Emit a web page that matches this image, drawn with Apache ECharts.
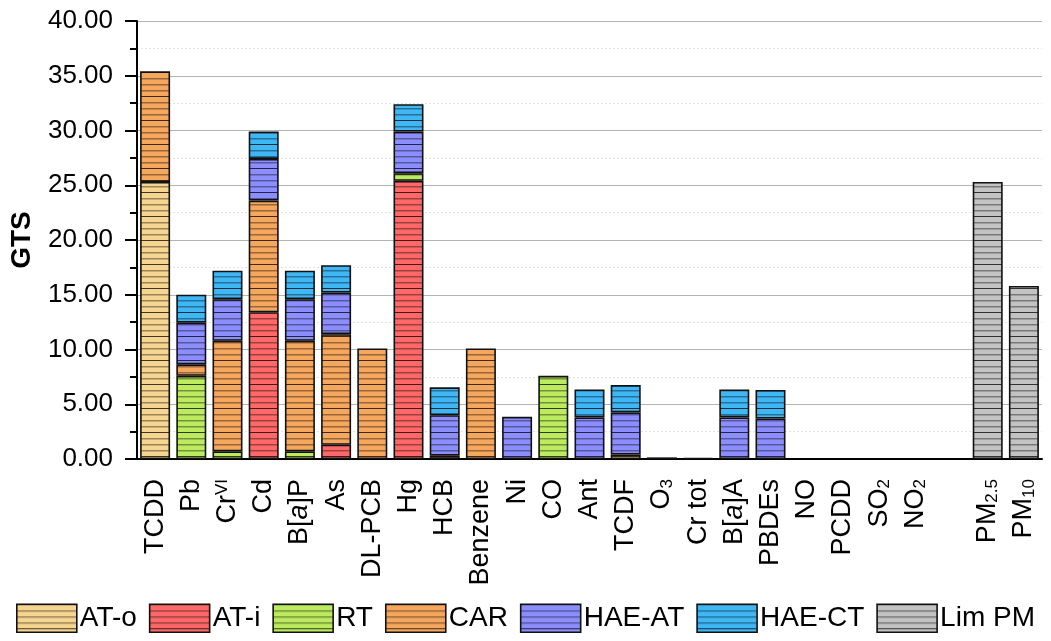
<!DOCTYPE html>
<html>
<head>
<meta charset="utf-8">
<style>
  html, body { margin: 0; padding: 0; background: #fff; }
  #chart { width: 1051px; height: 641px; }
</style>
<script src="https://cdn.jsdelivr.net/npm/echarts@6/dist/echarts.min.js"></script>
</head>
<body>
<div id="chart"></div>
<script>
// Pollutant categories along the x axis (the empty slot separates the PM group)
const categories = ['TCDD', 'Pb', 'CrVI', 'Cd', 'B[a]P', 'As', 'DL-PCB', 'Hg', 'HCB', 'Benzene',
  'Ni', 'CO', 'Ant', 'TCDF', 'O3', 'Cr tot', 'B[a]A', 'PBDEs', 'NO', 'PCDD', 'SO2', 'NO2', '', 'PM2.5', 'PM10'];

// Rich-text versions of the labels (sub/superscripts, italics)
const labelText = {
  'CrVI': 'Cr{sup|VI}',
  'B[a]P': 'B[{it|a}]P',
  'B[a]A': 'B[{it|a}]A',
  'O3': 'O{sub|3}',
  'SO2': 'SO{sub|2}',
  'NO2': 'NO{sub|2}',
  'PM2.5': 'PM{sub|2.5}',
  'PM10': 'PM{sub|10}'
};

const seriesNames = ['AT-o', 'AT-i', 'RT', 'CAR', 'HAE-AT', 'HAE-CT', 'Lim PM'];
const seriesColors = ['#F6D590', '#FF6868', '#BDEB60', '#F6A75E', '#8C8EFF', '#40B7F5', '#C3C3C3'];

// GTS contributions per category (null = no contribution)
const atO   = [25.3, null, null, null, null, null, null, null, null, null, null, null, null, 0.4, null, null, null, null, null, null, null, null, null, null, null];
const atI   = [null, null, null, 13.4, null, 1.3, null, 25.4, 0.3, null, null, null, null, null, 0.15, 0.08, null, null, null, null, null, null, null, null, null];
const rt    = [null, 7.6, 0.7, null, 0.7, null, null, 0.7, null, null, null, 7.6, null, null, null, null, null, null, null, null, null, null, null, null, null];
const car   = [10.1, 1.05, 10.1, 10.2, 10.1, 10.1, 10.1, null, null, 10.1, null, null, null, null, null, null, null, null, null, null, null, null, null, null, null];
const haeAT = [null, 3.8, 3.8, 3.8, 3.8, 3.8, null, 3.8, 3.7, null, 3.85, null, 3.8, 3.85, null, null, 3.8, 3.7, null, null, null, null, null, null, null];
const haeCT = [null, 2.55, 2.6, 2.5, 2.6, 2.5, null, 2.5, 2.55, null, null, null, 2.55, 2.5, null, null, 2.55, 2.6, null, null, null, null, null, null, null];
const limPM = [null, null, null, null, null, null, null, null, null, null, null, null, null, null, null, null, null, null, null, null, null, null, null, 25.3, 15.8];

const seriesData = [atO, atI, rt, car, haeAT, haeCT, limPM];

// Horizontal hatch fill: base colour with darker stripes
function stripePattern(color) {
  const c = document.createElement('canvas');
  c.width = 8;
  c.height = 24;
  const g = c.getContext('2d');
  g.fillStyle = color;
  g.fillRect(0, 0, 8, 24);
  g.fillStyle = 'rgba(0,0,0,0.75)';
  g.fillRect(0, 0, 8, 1);
  g.fillStyle = 'rgba(0,0,0,0.38)';
  g.fillRect(0, 6, 8, 1.5);
  g.fillRect(0, 12, 8, 1.5);
  g.fillRect(0, 18, 8, 1.5);
  return { image: c, repeat: 'repeat' };
}

const FONT = '"Liberation Sans", Arial, sans-serif';

const chart = echarts.init(document.getElementById('chart'), null, { renderer: 'canvas' });

const series = seriesNames.map((name, i) => ({
  name: name,
  type: 'bar',
  stack: 'gts',
  barWidth: 30,
  data: seriesData[i],
  itemStyle: {
    color: stripePattern(seriesColors[i]),
    borderColor: '#111',
    borderWidth: 1.6
  },
  emphasis: { disabled: true }
}));

chart.setOption({
  animation: false,
  backgroundColor: '#fff',
  grid: { left: 137, right: 9, top: 21, bottom: 182, containLabel: false },
  legend: {
    bottom: 3,
    left: 'center',
    itemWidth: 60,
    itemHeight: 28,
    itemGap: 12,
    icon: 'rect',
    data: seriesNames,
    textStyle: { fontFamily: FONT, fontSize: 28, color: '#000', padding: [0, 0, 0, -2] },
    itemStyle: { borderColor: '#111', borderWidth: 1.6 }
  },
  xAxis: {
    type: 'category',
    data: categories,
    boundaryGap: true,
    axisLine: { lineStyle: { color: '#000', width: 2 } },
    axisTick: { alignWithLabel: true, length: 12, lineStyle: { color: '#000', width: 2 } },
    axisLabel: {
      interval: 0,
      rotate: 90,
      margin: 20,
      fontFamily: FONT,
      fontSize: 27,
      color: '#000',
      formatter: v => labelText[v] || v,
      rich: {
        sup: { fontFamily: FONT, fontSize: 17, color: '#000', verticalAlign: 'top', padding: [0, 0, 10, 0] },
        sub: { fontFamily: FONT, fontSize: 17, color: '#000', verticalAlign: 'bottom', padding: [10, 0, 0, 0] },
        it: { fontFamily: FONT, fontSize: 27, fontStyle: 'italic', color: '#000' }
      }
    },
    splitLine: { show: false }
  },
  yAxis: {
    type: 'value',
    min: 0,
    max: 40,
    interval: 5,
    name: 'GTS',
    nameLocation: 'middle',
    nameRotate: 90,
    nameGap: 101,
    nameTextStyle: { fontFamily: FONT, fontSize: 28, fontWeight: 'bold', color: '#000' },
    axisLine: { show: true, lineStyle: { color: '#000', width: 2 } },
    axisTick: { show: true, length: 12, lineStyle: { color: '#000', width: 2 } },
    minorTick: { show: true, splitNumber: 2, length: 7, lineStyle: { color: '#000', width: 2 } },
    axisLabel: {
      margin: 24,
      fontFamily: FONT,
      fontSize: 26,
      color: '#000',
      formatter: v => v.toFixed(2)
    },
    splitLine: { show: true, lineStyle: { color: '#b4b4b4', width: 1.2 } },
    minorSplitLine: { show: true, lineStyle: { color: '#e2e2e2', width: 1, type: [2, 2] } }
  },
  series: series
});
</script>
</body>
</html>
